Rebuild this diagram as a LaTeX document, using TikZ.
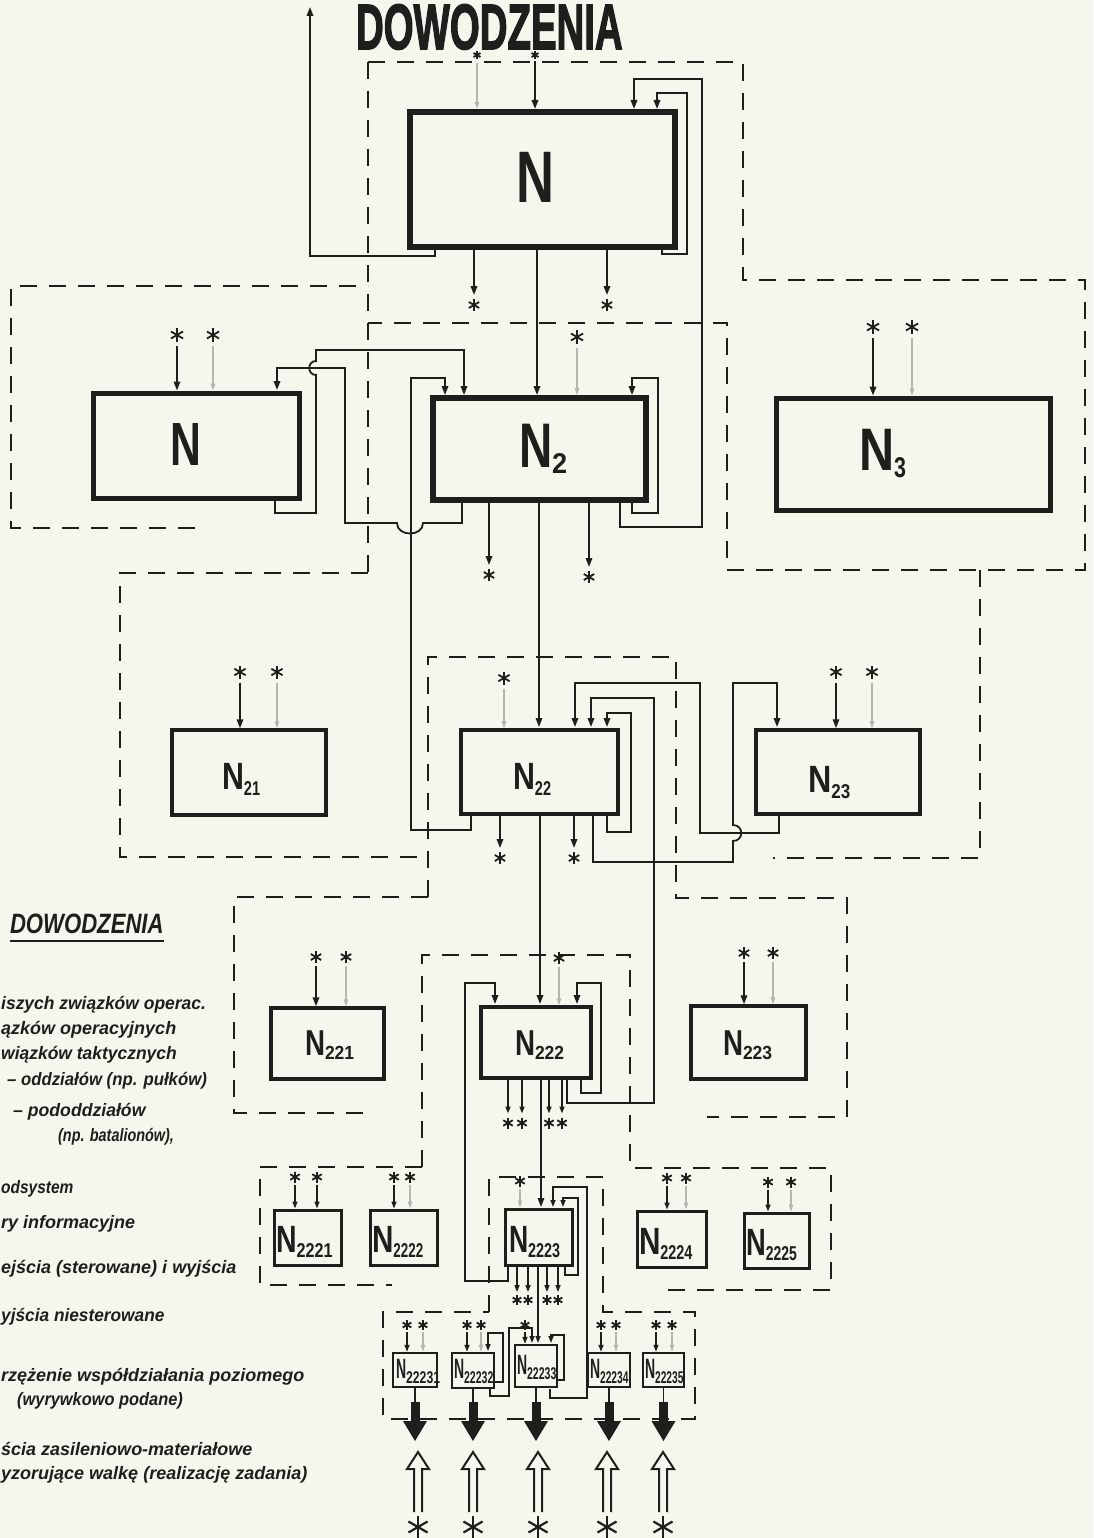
\documentclass[tikz,border=0pt]{standalone}
\usepackage{fontspec}
\setmainfont{Liberation Sans}
\newfontfamily\heavyfont[FakeBold=2.5]{Liberation Sans}
\usepackage{graphicx}
\usetikzlibrary{arrows.meta,calc}
\definecolor{paper}{RGB}{246,245,238}
\definecolor{ink}{RGB}{32,30,28}
\definecolor{faint}{RGB}{182,182,176}
\newcommand{\NL}[6]{\scalebox{#1}[1]{\fontsize{#2}{#2}\selectfont\bfseries N}\raisebox{-#5}{\scalebox{#3}[1]{\fontsize{#4}{#4}\selectfont\bfseries #6}}}
\newcommand{\lgw}[2]{\scalebox{#1}[1]{#2}}
\tikzset{
 bx/.style={draw=ink, line width=#1, inner sep=0pt},
 cn/.style={draw=ink, line width=1.8pt, line join=miter},
 ar/.style={cn, -{Triangle[length=9pt,width=6.5pt]}},
 sar/.style={cn, line width=1.5pt, -{Triangle[length=7pt,width=5pt]}},
 lt/.style={draw=faint, line width=1.3pt, -{Triangle[length=7pt,width=4.5pt]}},
 dsh/.style={draw=ink, line width=2.2pt, dash pattern=on 17pt off 12pt},
 lab/.style={inner sep=0pt, outer sep=0pt, text=ink, anchor=base west},
 leg/.style={inner sep=0pt, anchor=base west, text=ink, font=\fontsize{18}{18}\selectfont\bfseries\itshape},
 ast/.style={inner sep=0pt, outer sep=0pt, minimum size=#1, path picture={
   \foreach \a in {90,30,150}{\draw[ink, line width=1.8pt] ($(path picture bounding box.center)+(\a:#1/2)$) -- ($(path picture bounding box.center)-(\a:#1/2)$);}}},
 bigast/.style={inner sep=0pt, outer sep=0pt, minimum size=#1, path picture={
   \foreach \a in {90,30,150}{\draw[ink, line width=2.2pt] ($(path picture bounding box.center)+(\a:#1/2)$) -- ($(path picture bounding box.center)-(\a:#1/2)$);}}},
}
\begin{document}
\begin{tikzpicture}[x=1pt,y=-1pt]
\useasboundingbox (0,0) rectangle (1093,1538);
\fill[paper] (0,0) rectangle (1093,1538);

% ---------------- dashed subsystem borders
\draw[dsh] (195,528) -- (11,528) -- (11,286) -- (368,286);
\draw[dsh] (368,62) -- (368,573);
\draw[dsh] (368,62) -- (743,62) -- (743,280) -- (1085,280) -- (1085,570) -- (727,570) -- (727,323) -- (368,323);
\draw[dsh] (368,573) -- (120,573) -- (120,857) -- (428,857);
\draw[dsh] (980,570) -- (980,858) -- (773,858);
\draw[dsh] (428,897) -- (428,657) -- (676,657) -- (676,898) -- (847,898) -- (847,1117) -- (707,1117);
\draw[dsh] (428,897) -- (234,897) -- (234,1113) -- (371,1113);
\draw[dsh] (422,1167) -- (422,955) -- (630,955) -- (630,1168) -- (831,1168) -- (831,1290) -- (663,1290);
\draw[dsh] (422,1167) -- (260,1167) -- (260,1285) -- (392,1285);
\draw[dsh] (489,1312) -- (489,1177) -- (603,1177) -- (603,1312) -- (695,1312) -- (695,1419) -- (383,1419) -- (383,1312) -- cycle;

% ---------------- title
\node[lab, text height=44pt, text depth=0pt] (title) at (356,49) {\scalebox{0.6}[1]{\fontsize{64}{64}\selectfont\heavyfont\bfseries DOWODZENIA}};

% ---------------- boxes
\node[bx=6pt, minimum width=265pt, minimum height=135pt] (N) at (542.5,179.5) {};
\node[bx=5pt, minimum width=206pt, minimum height=105pt] (N1) at (196,445.5) {};
\node[bx=6pt, minimum width=213pt, minimum height=102pt] (N2) at (539.5,449) {};
\node[bx=5pt, minimum width=274pt, minimum height=112pt] (N3) at (913,454) {};
\node[bx=3.5pt, minimum width=154pt, minimum height=85pt] (N21) at (249,772.5) {};
\node[bx=3.5pt, minimum width=157pt, minimum height=84pt] (N22) at (539.5,772) {};
\node[bx=3.5pt, minimum width=164pt, minimum height=84pt] (N23) at (838,772) {};
\node[bx=3.5pt, minimum width=113pt, minimum height=71pt] (N221) at (327.5,1043.5) {};
\node[bx=3.5pt, minimum width=110pt, minimum height=71pt] (N222) at (536,1042.5) {};
\node[bx=3.5pt, minimum width=115pt, minimum height=73pt] (N223) at (748.5,1042.5) {};
\node[bx=3pt, minimum width=67pt, minimum height=55pt] (N2221) at (307.5,1237.5) {};
\node[bx=3pt, minimum width=67pt, minimum height=55pt] (N2222) at (403.5,1237.5) {};
\node[bx=3pt, minimum width=67pt, minimum height=56pt] (N2223) at (538.5,1237) {};
\node[bx=3pt, minimum width=69pt, minimum height=56pt] (N2224) at (671.5,1239) {};
\node[bx=3pt, minimum width=65pt, minimum height=55pt] (N2225) at (776.5,1240.5) {};
\node[bx=2.5pt, minimum width=44pt, minimum height=34pt] (B1) at (415,1370) {};
\node[bx=2.5pt, minimum width=42pt, minimum height=35pt] (B2) at (473,1370.5) {};
\node[bx=2.5pt, minimum width=42pt, minimum height=42pt] (B3) at (536,1366) {};
\node[bx=2.5pt, minimum width=42pt, minimum height=34pt] (B4) at (609,1370) {};
\node[bx=2.5pt, minimum width=41pt, minimum height=34pt] (B5) at (663.5,1370) {};

% ---------------- labels
\node[lab] (lN) at (516,203) {\NL{0.72}{73}{1}{30}{0pt}{}};
\node[lab] (lN1) at (170,465) {\NL{0.70}{61}{1}{28}{0pt}{}};
\node[lab] (lN2) at (519,467) {\NL{0.73}{63}{0.95}{28.6}{6pt}{2}};
\node[lab] (lN3) at (859,470) {\NL{0.81}{60}{0.75}{28.6}{7pt}{3}};
\node[lab] (lN21) at (222,789) {\NL{0.8}{38}{0.73}{20}{6pt}{21}};
\node[lab] (lN22) at (513,789) {\NL{0.8}{38}{0.73}{20}{6pt}{22}};
\node[lab] (lN23) at (808,792) {\NL{0.85}{38}{0.85}{20}{6pt}{23}};
\node[lab] (lN221) at (305,1055) {\NL{0.77}{36}{0.92}{19}{4pt}{221}};
\node[lab] (lN222) at (515,1055) {\NL{0.77}{36}{0.92}{19}{4pt}{222}};
\node[lab] (lN223) at (723,1055) {\NL{0.77}{36}{0.92}{19}{4pt}{223}};
\node[lab] (lN2221) at (276,1252) {\NL{0.75}{38}{0.81}{20}{5pt}{2221}};
\node[lab] (lN2222) at (372,1252) {\NL{0.78}{38}{0.67}{20}{5pt}{2222}};
\node[lab] (lN2223) at (509,1252) {\NL{0.7}{38}{0.72}{20}{5pt}{2223}};
\node[lab] (lN2224) at (639,1254) {\NL{0.78}{38}{0.72}{20}{5pt}{2224}};
\node[lab] (lN2225) at (746,1255) {\NL{0.72}{38}{0.7}{20}{5pt}{2225}};
\node[lab] (lB1) at (396,1378) {\NL{0.5}{28}{0.72}{17}{5pt}{22231}};
\node[lab] (lB2) at (454,1378) {\NL{0.5}{28}{0.62}{17}{5pt}{22232}};
\node[lab] (lB3) at (517,1374) {\NL{0.5}{28}{0.62}{17}{5pt}{22233}};
\node[lab] (lB4) at (590,1378) {\NL{0.5}{28}{0.6}{17}{5pt}{22234}};
\node[lab] (lB5) at (645,1378) {\NL{0.5}{28}{0.6}{17}{5pt}{22235}};

% ---------------- stars
\node[ast=8pt] (t1) at (477,55) {};
\node[ast=8pt] (t2) at (535,55) {};
\node[ast=12pt] (o1) at (474,305) {};
\node[ast=12pt] (o2) at (607,305) {};
\node[ast=14pt] (a1) at (177,335) {};
\node[ast=14pt] (a2) at (213,335) {};
\node[ast=14pt] (a3) at (577,337) {};
\node[ast=12pt] (o3) at (489,575) {};
\node[ast=12pt] (o4) at (589,577) {};
\node[ast=14pt] (a4) at (873,327) {};
\node[ast=14pt] (a5) at (912,327) {};
\node[ast=13pt] (a6) at (240,672) {};
\node[ast=13pt] (a7) at (277,672) {};
\node[ast=13pt] (a8) at (504,678) {};
\node[ast=12pt] (o5) at (500,858) {};
\node[ast=12pt] (o6) at (574,858) {};
\node[ast=13pt] (a9) at (836,672) {};
\node[ast=13pt] (a10) at (872,672) {};
\node[ast=12pt] (a11) at (316,957) {};
\node[ast=12pt] (a12) at (346,957) {};
\node[ast=12pt] (a13) at (559,958) {};
\node[ast=11pt] (o7) at (508,1123) {};
\node[ast=11pt] (o8) at (522,1123) {};
\node[ast=11pt] (o9) at (549,1123) {};
\node[ast=11pt] (o10) at (562,1123) {};
\node[ast=12pt] (a14) at (744,953) {};
\node[ast=12pt] (a15) at (773,953) {};
\node[ast=11pt] (a16) at (295,1177) {};
\node[ast=11pt] (a17) at (317,1177) {};
\node[ast=11pt] (a18) at (394,1177) {};
\node[ast=11pt] (a19) at (410,1177) {};
\node[ast=11pt] (a20) at (520,1181) {};
\node[ast=10pt] (o11) at (517,1300) {};
\node[ast=10pt] (o12) at (528,1300) {};
\node[ast=10pt] (o13) at (547,1300) {};
\node[ast=10pt] (o14) at (558,1300) {};
\node[ast=11pt] (a21) at (667,1178) {};
\node[ast=11pt] (a22) at (686,1178) {};
\node[ast=11pt] (a23) at (768,1182) {};
\node[ast=11pt] (a24) at (791,1182) {};
\node[ast=10pt] (b1) at (407,1325) {};
\node[ast=10pt] (b2) at (423,1325) {};
\node[ast=10pt] (b3) at (467,1325) {};
\node[ast=10pt] (b4) at (481,1325) {};
\node[ast=10pt] (b5) at (525,1325) {};
\node[ast=10pt] (b6) at (601,1325) {};
\node[ast=10pt] (b7) at (616,1325) {};
\node[ast=10pt] (b8) at (656,1325) {};
\node[ast=10pt] (b9) at (672,1325) {};

% ---------------- top level connectors
\draw[lt] ([yshift=-4pt]t1.south) -- (t1 |- N.north);
\draw[ar] ([yshift=-2pt]t2.south) -- (t2 |- N.north);
\draw[ar] (435,250) -- (435,256) -- (310,256) -- (310,7);
\draw[ar] (620,503) -- (620,527) -- (702,527) -- (702,79) -- (634,79) -- (634,109);
\draw[ar] (662,250) -- (662,254) -- (687,254) -- (687,93) -- (657,93) -- (657,109);
\draw[ar] (537,250) -- (537,395);
\draw[ar] (N.south -| o1) -- ([yshift=4pt]o1.north);
\draw[ar] (N.south -| o2) -- ([yshift=4pt]o2.north);

% ---------------- level 1
\draw[ar] ([yshift=-4pt]a1.south) -- (a1 |- N1.north);
\draw[lt] ([yshift=-4pt]a2.south) -- (a2 |- N1.north);
\draw[lt] ([yshift=-4pt]a3.south) -- (a3 |- N2.north);
\draw[ar] ([yshift=-4pt]a4.south) -- (a4 |- N3.north);
\draw[lt] ([yshift=-4pt]a5.south) -- (a5 |- N3.north);
\draw[ar] (275,501) -- (275,513) -- (316,513) -- (316,375) .. controls (307,375) and (307,361) .. (316,361) -- (316,350) -- (464,350) -- (464,395);
\draw[ar] (462,503) -- (462,523) -- (423,523) .. controls (423,537) and (397,537) .. (397,523) -- (345,523) -- (345,368) -- (277,368) -- (277,390);
\draw[ar] (471,816) -- (471,830) -- (411,830) -- (411,378) -- (445,378) -- (445,395);
\draw[ar] (632,503) -- (632,513) -- (658,513) -- (658,378) -- (632,378) -- (632,395);
\draw[ar] (N2.south -| o3) -- ([yshift=4pt]o3.north);
\draw[ar] (N2.south -| o4) -- ([yshift=4pt]o4.north);
\draw[ar] (539,503) -- (539,727);

% ---------------- level 2
\draw[ar] ([yshift=-4pt]a6.south) -- (a6 |- N21.north);
\draw[lt] ([yshift=-4pt]a7.south) -- (a7 |- N21.north);
\draw[lt] ([yshift=-4pt]a8.south) -- (a8 |- N22.north);
\draw[ar] ([yshift=-4pt]a9.south) -- (a9 |- N23.north);
\draw[lt] ([yshift=-4pt]a10.south) -- (a10 |- N23.north);
\draw[ar] (779,816) -- (779,833) -- (700,833) -- (700,683) -- (575,683) -- (575,727);
\draw[ar] (593,816) -- (593,862) -- (733,862) -- (733,841) .. controls (744,841) and (744,825) .. (733,825) -- (733,683) -- (777,683) -- (777,727);
\draw[ar] (567,1080) -- (567,1103) -- (654,1103) -- (654,698) -- (591,698) -- (591,727);
\draw[ar] (607,816) -- (607,832) -- (631,832) -- (631,713) -- (607,713) -- (607,727);
\draw[ar] (N22.south -| o5) -- ([yshift=4pt]o5.north);
\draw[ar] (N22.south -| o6) -- ([yshift=4pt]o6.north);
\draw[ar] (540,816) -- (540,1004);

% ---------------- level 3
\draw[ar] ([yshift=-3pt]a11.south) -- (a11 |- N221.north);
\draw[lt] ([yshift=-3pt]a12.south) -- (a12 |- N221.north);
\draw[lt] ([yshift=-3pt]a13.south) -- (a13 |- N222.north);
\draw[ar] ([yshift=-3pt]a14.south) -- (a14 |- N223.north);
\draw[lt] ([yshift=-3pt]a15.south) -- (a15 |- N223.north);
\draw[ar] (508,1267) -- (508,1281) -- (465,1281) -- (465,983) -- (495,983) -- (495,1004);
\draw[ar] (581,1080) -- (581,1093) -- (601,1093) -- (601,983) -- (577,983) -- (577,1004);
\draw[sar] (N222.south -| o7) -- ([yshift=4pt]o7.north);
\draw[sar] (N222.south -| o8) -- ([yshift=4pt]o8.north);
\draw[sar] (N222.south -| o9) -- ([yshift=4pt]o9.north);
\draw[sar] (N222.south -| o10) -- ([yshift=4pt]o10.north);
\draw[ar] (541,1080) -- (541,1207);

% ---------------- level 4
\draw[sar] ([yshift=-2pt]a16.south) -- (a16 |- N2221.north);
\draw[sar] ([yshift=-2pt]a17.south) -- (a17 |- N2221.north);
\draw[sar] ([yshift=-2pt]a18.south) -- (a18 |- N2222.north);
\draw[lt] ([yshift=-2pt]a19.south) -- (a19 |- N2222.north);
\draw[lt] ([yshift=-2pt]a20.south) -- (a20 |- N2223.north);
\draw[sar] ([yshift=-2pt]a21.south) -- (a21 |- N2224.north);
\draw[lt] ([yshift=-2pt]a22.south) -- (a22 |- N2224.north);
\draw[sar] ([yshift=-2pt]a23.south) -- (a23 |- N2225.north);
\draw[lt] ([yshift=-2pt]a24.south) -- (a24 |- N2225.north);
\draw[sar] (550,1389) -- (550,1398) -- (587,1398) -- (587,1187) -- (553,1187) -- (553,1207);
\draw[sar] (565,1267) -- (565,1275) -- (578,1275) -- (578,1198) -- (563,1198) -- (563,1207);
\draw[sar] (N2223.south -| o11) -- ([yshift=3pt]o11.north);
\draw[sar] (N2223.south -| o12) -- ([yshift=3pt]o12.north);
\draw[sar] (N2223.south -| o13) -- ([yshift=3pt]o13.north);
\draw[sar] (N2223.south -| o14) -- ([yshift=3pt]o14.north);
\draw[sar] (538,1267) -- (538,1343);

% ---------------- level 5
\draw[sar] ([yshift=-2pt]b1.south) -- (b1 |- B1.north);
\draw[lt] ([yshift=-2pt]b2.south) -- (b2 |- B1.north);
\draw[sar] ([yshift=-2pt]b3.south) -- (b3 |- B2.north);
\draw[lt] ([yshift=-2pt]b4.south) -- (b4 |- B2.north);
\draw[sar] ([yshift=-2pt]b5.south) -- (b5 |- B3.north);
\draw[sar] ([yshift=-2pt]b6.south) -- (b6 |- B4.north);
\draw[lt] ([yshift=-2pt]b7.south) -- (b7 |- B4.north);
\draw[sar] ([yshift=-2pt]b8.south) -- (b8 |- B5.north);
\draw[lt] ([yshift=-2pt]b9.south) -- (b9 |- B5.north);
\draw[sar] (495,1382) -- (503,1382) -- (503,1333) -- (488,1333) -- (488,1351);
\draw[sar] (490,1389) -- (490,1396) -- (509,1396) -- (509,1328) -- (532,1328) -- (532,1343);
\draw[sar] (558,1380) -- (564,1380) -- (564,1335) -- (551,1335) -- (551,1343);

\foreach \i/\x in {1/415,2/473,3/536,4/609,5/663.5}{
  \coordinate (h\i) at (\x,1421);
  \draw[cn] (B\i.south) -- (B\i.south |- h\i);
  \fill[ink] ($(h\i)+(-4.5,-19)$) rectangle ($(h\i)+(4.5,0)$);
  \fill[ink] ($(h\i)+(-12,0)$) -- ($(h\i)+(12,0)$) -- ($(h\i)+(0,20)$) -- cycle;
}
\foreach \i/\x in {1/418,2/473,3/538,4/607,5/663}{
  \node[bigast=22pt] (z\i) at (\x,1527) {};
  \coordinate (u\i) at (\x,1452);
  \draw[cn, line width=2pt] ($(u\i)+(-4,60)$) -- ($(u\i)+(-4,17)$) -- ($(u\i)+(-11,17)$) -- (u\i) -- ($(u\i)+(11,17)$) -- ($(u\i)+(4,17)$) -- ($(u\i)+(4,60)$);
}

% ---------------- legend
\node[lab] (lgh) at (10,933) {\scalebox{0.79}[1]{\fontsize{28}{28}\selectfont\bfseries\itshape DOWODZENIA}};
\draw[cn] ([yshift=-8pt]lgh.base west) -- ([yshift=-8pt]lgh.base east);
\node[leg] (g1) at (1,1009) {\lgw{0.97}{iszych związków operac.}};
\node[leg] (g2) at (1,1034) {\lgw{1.0}{ązków operacyjnych}};
\node[leg] (g3) at (1,1059) {\lgw{0.97}{wiązków taktycznych}};
\node[leg] (g4) at (7,1085) {\lgw{0.93}{– oddziałów (np. pułków)}};
\node[leg] (g5) at (13,1116) {\lgw{0.98}{– pododdziałów}};
\node[leg] (g6) at (58,1141) {\lgw{0.8}{(np. batalionów),}};
\node[leg] (g7) at (1,1193) {\lgw{0.86}{odsystem}};
\node[leg] (g8) at (1,1228) {\lgw{1.0}{ry informacyjne}};
\node[leg] (g9) at (1,1273) {\lgw{1.0}{ejścia (sterowane) i wyjścia}};
\node[leg] (g10) at (1,1321) {\lgw{0.96}{yjścia niesterowane}};
\node[leg] (g11) at (1,1381) {\lgw{1.0}{rzężenie współdziałania poziomego}};
\node[leg] (g12) at (17,1405) {\lgw{0.91}{(wyrywkowo podane)}};
\node[leg] (g13) at (1,1455) {\lgw{1.0}{ścia zasileniowo-materiałowe}};
\node[leg] (g14) at (1,1479) {\lgw{1.0}{yzorujące walkę (realizację zadania)}};
\end{tikzpicture}
\end{document}
